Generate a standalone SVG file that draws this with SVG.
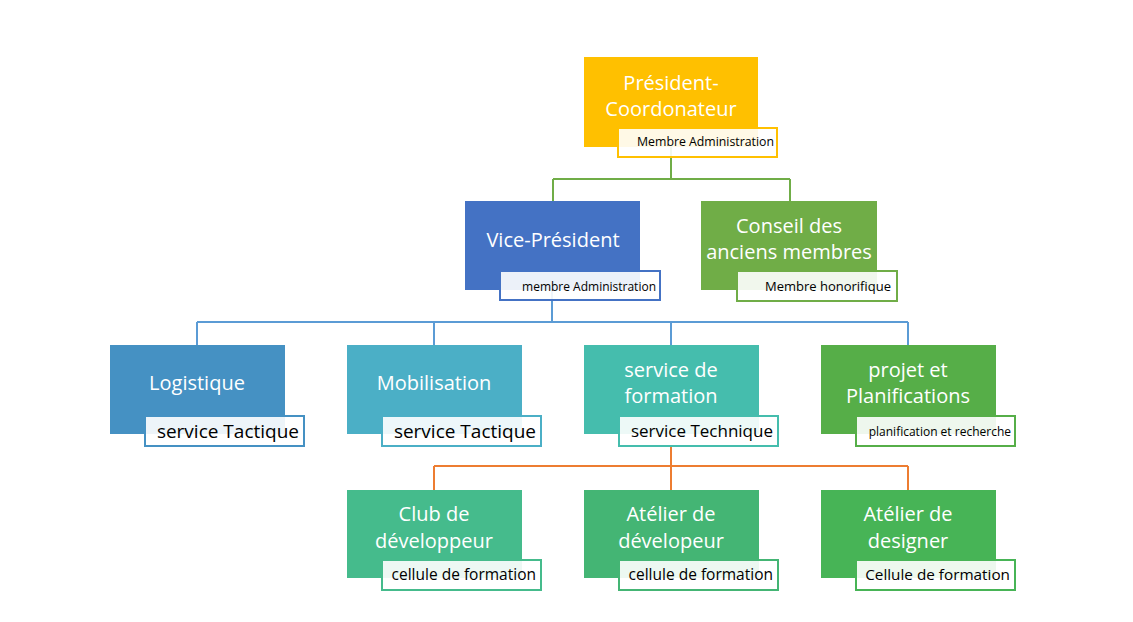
<svg xmlns="http://www.w3.org/2000/svg" width="1133" height="622" viewBox="0 0 1133 622">
<style>
.box{stroke:none}
.lbl{fill:#ffffff;fill-opacity:0.9;stroke-width:2}
.t{font-family:"Open Sans","Liberation Sans",sans-serif;fill:#ffffff;font-size:20px;text-anchor:middle}
.s{font-family:"Open Sans","Liberation Sans",sans-serif;fill:#000000;text-anchor:end}
.c{fill:none;stroke-width:2}
</style>
<rect width="1133" height="622" fill="#ffffff"/>
<g id="connectors">
<path class="c" stroke="#70AD47" d="M671 147V179M553 179H790M553 179V201M790 179V201"/>
<path class="c" stroke="#5B9BD5" d="M552 290V322M197 322H908M197 322V345M434 322V345M671 322V345M908 322V345"/>
<path class="c" stroke="#ED7D31" d="M671 446V466M434 466H908M434 466V490M671 466V490M908 466V490"/>
</g>
<g id="president">
<rect class="box" x="584" y="57" width="174" height="90" fill="#FFC000"/>
<text class="t" x="671" y="90">Président-</text>
<text class="t" x="671" y="116">Coordonateur</text>
<rect class="lbl" x="618" y="128" width="159" height="29" stroke="#FFC000"/>
<text class="s" x="774" y="146" font-size="12.3">Membre Administration</text>
</g>
<g id="vice-president">
<rect class="box" x="465" y="201" width="175" height="89" fill="#4472C4"/>
<text class="t" x="553" y="247">Vice-Président</text>
<rect class="lbl" x="500" y="271" width="160" height="29" stroke="#4472C4"/>
<text class="s" x="656" y="291" font-size="12">membre Administration</text>
</g>
<g id="conseil">
<rect class="box" x="701" y="201" width="176" height="89" fill="#70AD47"/>
<text class="t" x="789" y="233">Conseil des</text>
<text class="t" x="789" y="259">anciens membres</text>
<rect class="lbl" x="737" y="271" width="160" height="30" stroke="#70AD47"/>
<text class="s" x="891" y="291" font-size="13">Membre honorifique</text>
</g>
<g id="logistique">
<rect class="box" x="110" y="345" width="175" height="89" fill="#4591C3"/>
<text class="t" x="197" y="390">Logistique</text>
<rect class="lbl" x="145" y="416" width="159" height="30" stroke="#4591C3"/>
<text class="s" x="299" y="438" font-size="19">service Tactique</text>
</g>
<g id="mobilisation">
<rect class="box" x="347" y="345" width="175" height="89" fill="#4BAFC6"/>
<text class="t" x="434" y="390">Mobilisation</text>
<rect class="lbl" x="382" y="416" width="159" height="30" stroke="#4BAFC6"/>
<text class="s" x="536" y="438" font-size="19">service Tactique</text>
</g>
<g id="service-formation">
<rect class="box" x="584" y="345" width="175" height="89" fill="#45BDAD"/>
<text class="t" x="671" y="377">service de</text>
<text class="t" x="671" y="403">formation</text>
<rect class="lbl" x="619" y="416" width="159" height="30" stroke="#45BDAD"/>
<text class="s" x="773" y="437" font-size="17">service Technique</text>
</g>
<g id="projet">
<rect class="box" x="821" y="345" width="175" height="89" fill="#56AE48"/>
<text class="t" x="908" y="377">projet et</text>
<text class="t" x="908" y="403">Planifications</text>
<rect class="lbl" x="856" y="416" width="159" height="30" stroke="#56AE48"/>
<text class="s" x="1011" y="436" font-size="12">planification et recherche</text>
</g>
<g id="club">
<rect class="box" x="347" y="490" width="175" height="88" fill="#45BB8C"/>
<text class="t" x="434" y="521">Club de</text>
<text class="t" x="434" y="548">développeur</text>
<rect class="lbl" x="382" y="560" width="159" height="30" stroke="#45BB8C"/>
<text class="s" x="536" y="580" font-size="15.5">cellule de formation</text>
</g>
<g id="atelier-dev">
<rect class="box" x="584" y="490" width="175" height="88" fill="#44B574"/>
<text class="t" x="671" y="521">Atélier de</text>
<text class="t" x="671" y="548">dévelopeur</text>
<rect class="lbl" x="619" y="560" width="159" height="30" stroke="#44B574"/>
<text class="s" x="773" y="580" font-size="15.5">cellule de formation</text>
</g>
<g id="atelier-designer">
<rect class="box" x="821" y="490" width="175" height="88" fill="#47B456"/>
<text class="t" x="908" y="521">Atélier de</text>
<text class="t" x="908" y="548">designer</text>
<rect class="lbl" x="856" y="560" width="159" height="30" stroke="#47B456"/>
<text class="s" x="1010" y="580" font-size="15.3">Cellule de formation</text>
</g>
</svg>
